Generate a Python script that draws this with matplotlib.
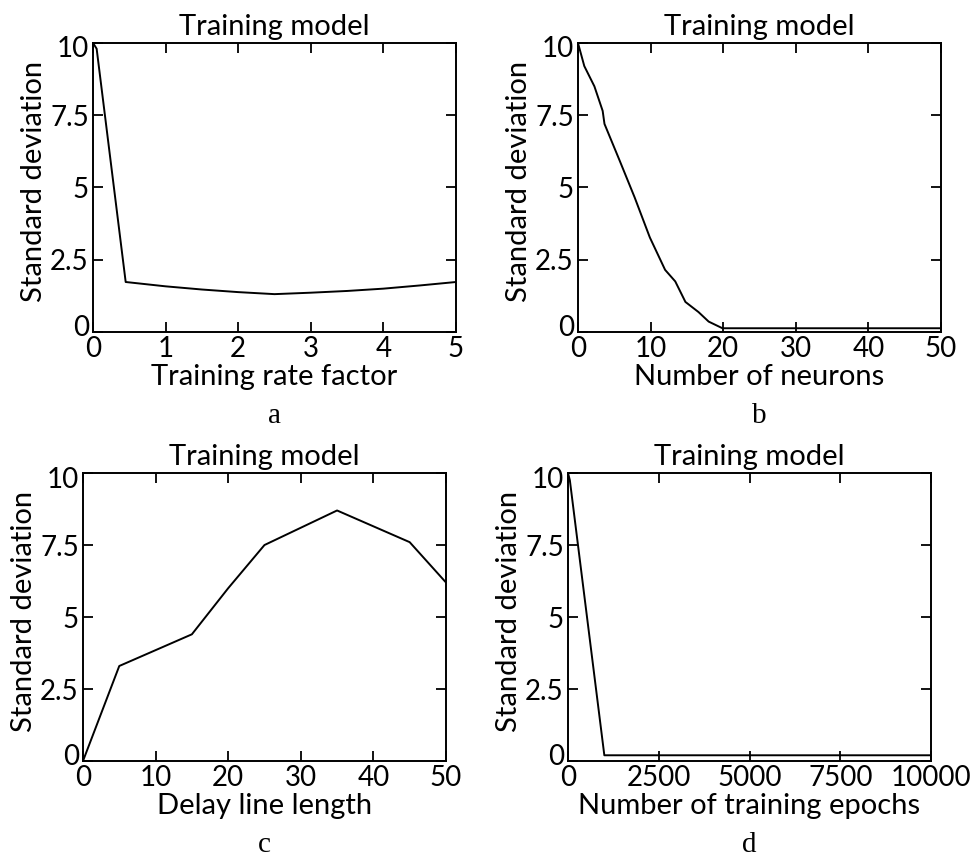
import matplotlib
matplotlib.use("Agg")
import matplotlib.pyplot as plt
from matplotlib.ticker import FormatStrFormatter
from matplotlib.transforms import ScaledTranslation

plt.rcParams['font.family'] = ['Lato', 'DejaVu Sans']

# a: training rate factor
rate_x = [0.0, 0.05, 0.45, 1.0, 1.5, 2.0, 2.5, 3.0, 3.5, 4.0, 4.5, 5.0]
rate_y = [10.0, 9.8, 1.73, 1.58, 1.47, 1.38, 1.31, 1.36, 1.42, 1.50, 1.61, 1.73]

# b: number of neurons
neur_x = [0, 0.87, 2.26, 3.4, 3.65, 5.74, 7.8, 9.9, 12.0, 13.4, 14.8, 16.6, 18.0, 19.9, 50]
neur_y = [10.0, 9.2, 8.5, 7.65, 7.2, 5.93, 4.66, 3.27, 2.15, 1.75, 1.04, 0.69, 0.36, 0.13, 0.13]

# c: delay line length
delay_x = [0, 5, 10, 15, 20, 25, 30, 35, 40, 45, 50]
delay_y = [0.0, 3.3, 3.85, 4.4, 6.0, 7.5, 8.1, 8.7, 8.15, 7.6, 6.2]

# d: number of training epochs
epoch_x = [0, 50, 1000, 10000]
epoch_y = [10.0, 9.75, 0.2, 0.2]

y_ticks = [0, 2.5, 5, 7.5, 10]

panels = [
    (rate_x, rate_y, [0, 5], [0, 1, 2, 3, 4, 5], "Training rate factor", "a",
     [0.0954, 0.6144, 0.3723, 0.3357]),
    (neur_x, neur_y, [0, 50], [0, 10, 20, 30, 40, 50], "Number of neurons", "b",
     [0.5928, 0.6144, 0.3723, 0.3357]),
    (delay_x, delay_y, [0, 50], [0, 10, 20, 30, 40, 50], "Delay line length", "c",
     [0.0851, 0.1161, 0.3723, 0.3345]),
    (epoch_x, epoch_y, [0, 10000], [0, 2500, 5000, 7500, 10000], "Number of training epochs", "d",
     [0.5826, 0.1161, 0.3723, 0.3345]),
]

fig = plt.figure(figsize=(9.75, 8.61), dpi=100)

for x, y, xlim, xticks, xlabel, tag, rect in panels:
    ax = fig.add_axes(rect)
    ax.plot(x, y, color="black", lw=1.4)
    ax.set_xlim(xlim)
    ax.set_ylim(0, 10)
    ax.set_xticks(xticks)
    ax.set_yticks(y_ticks)
    ax.yaxis.set_major_formatter(FormatStrFormatter('%g'))
    ax.tick_params(direction="in", top=True, right=True, length=7, width=1.3,
                   labelsize=20, pad=3, colors="black")
    for s in ax.spines.values():
        s.set_linewidth(1.4)
    ax.set_title("Training model", fontsize=21, pad=6)
    ax.set_xlabel(xlabel, fontsize=21, labelpad=1)
    ax.set_ylabel("Standard deviation", fontsize=21, labelpad=2)
    ax.yaxis.label.set_y(0.52)

    # keep the end labels of the y axis inside the axis range
    ylabels = ax.get_yticklabels()
    ylabels[0].set_transform(ylabels[0].get_transform()
                             + ScaledTranslation(0, 7 / 100, fig.dpi_scale_trans))
    ylabels[-1].set_transform(ylabels[-1].get_transform()
                              + ScaledTranslation(0, -4 / 100, fig.dpi_scale_trans))

    # panel letter under the axis label
    ax.text(0.5, -0.29, tag, transform=ax.transAxes, ha="center", va="center",
            fontsize=21, family="Liberation Serif")

fig.savefig("out.png", dpi=100)
